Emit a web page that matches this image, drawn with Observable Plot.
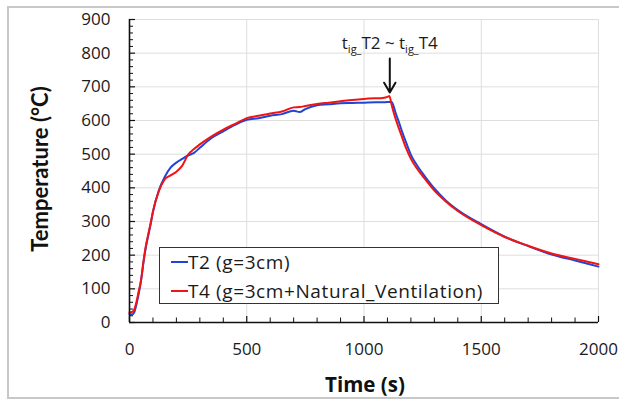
<!DOCTYPE html>
<html>
<head>
<meta charset="utf-8">
<script src="https://cdn.jsdelivr.net/npm/d3@7"></script>
<script src="https://cdn.jsdelivr.net/npm/@observablehq/plot@0.6"></script>
<style>
  html, body { margin: 0; padding: 0; background: #fff; }
  #wrap { position: relative; width: 619px; height: 401px; overflow: hidden; font-family: "Open Sans", sans-serif; }
  #frame { position: absolute; left: 7px; top: 6px; width: 640px; height: 389px; border: 2px solid #c8c8c8; border-right: none; box-sizing: content-box; }
  #chart { position: absolute; left: 0; top: 0; }
  #legend { position: absolute; left: 159px; top: 247px; width: 338px; height: 55px; border: 1px solid #333; background: #fff; font-size: 19px; letter-spacing: 0.6px; color: #1a1a1a; }
  .item { position: absolute; left: 11px; display: flex; align-items: center; white-space: nowrap; }
  .sw { width: 17px; height: 2px; margin-right: 0px; }
</style>
</head>
<body>
<div id="wrap">
  <div id="frame"></div>
  <div id="chart"></div>
  <div id="legend"></div>
</div>
<script>
// ---- data ----
const seriesNames = ["T2 (g=3cm)", "T4 (g=3cm+Natural_Ventilation)"];
const seriesColors = ["#1f45d8", "#f01414"];

const timeT2 = [0,10,20,30,40,47,50,60,70,80,90,100,125,150,175,200,225,250,275,300,350,400,450,500,550,600,650,700,725,750,800,850,900,950,1000,1050,1080,1100,1118,1125,1135,1148,1165,1185,1200,1225,1250,1300,1350,1400,1500,1600,1700,1800,1900,2000];
const tempT2 = [25,24,30,55,88,115,128,180,225,258,292,328,392,432,460,475,486,496,504,519,548,568,587,602,607,614,619,629,625,634,645,648,651,652,653,654,654,655,655,645,622,597,562,525,498,468,443,398,362,334,292,255,227,202,184,166];

const timeT4 = [0,10,20,30,40,47,50,60,70,80,90,100,125,150,175,200,225,250,275,300,350,400,450,500,550,600,650,700,725,750,800,850,900,950,1000,1050,1080,1100,1108,1118,1128,1142,1160,1180,1200,1225,1250,1300,1350,1400,1500,1600,1700,1800,1900,2000];
const tempT4 = [30,31,38,62,95,117,130,184,228,262,294,330,390,425,437,448,466,499,515,529,553,573,590,607,614,621,627,639,640,643,649,653,657,661,664,666,667,670,673,646,620,590,555,517,486,458,435,392,359,331,289,254,228,205,189,173];

const yTicks = [0,100,200,300,400,500,600,700,800,900];
const yMinor = d3.range(0, 901, 20).filter(v => v % 100 !== 0);
const xTicks = [0,500,1000,1500,2000];
const xMinor = d3.range(0, 2001, 100).filter(v => v % 500 !== 0);

const xTitle = "Time (s)";
const yTitle = "Temperature (°C)";
const annotation = [{t: 1110, yText: 828, yFrom: 784, yTo: 683, label: "t_ig_T2 ~ t_ig_T4"}];

// ---- build ----
const rows = [];
timeT2.forEach((t, i) => rows.push({series: seriesNames[0], t, v: tempT2[i]}));
timeT4.forEach((t, i) => rows.push({series: seriesNames[1], t, v: tempT4[i]}));

const W = 619, H = 401, mL = 129, mR = 21, mT = 19, mB = 79;
const fw = W - mL - mR, fh = H - mT - mB;
const gridC = "#dedede";
const FONT = "'Open Sans', sans-serif";

const chart = Plot.plot({
  width: W, height: H,
  marginLeft: mL, marginRight: mR, marginTop: mT, marginBottom: mB,
  x: {domain: [0, 2000], axis: null},
  y: {domain: [0, 900], axis: null},
  style: {fontFamily: FONT, fontSize: "17px", background: "transparent", color: "#1a1a1a"},
  marks: [
    Plot.ruleY(yTicks.filter(d => d > 0), {y: d => d, stroke: gridC, strokeWidth: 1}),
    Plot.ruleX(xTicks.filter(d => d > 0), {x: d => d, stroke: gridC, strokeWidth: 1}),
    Plot.line(rows.filter(d => d.series === seriesNames[0]), {x: "t", y: "v", stroke: seriesColors[0], strokeWidth: 2, curve: "monotone-x"}),
    Plot.line(rows.filter(d => d.series === seriesNames[1]), {x: "t", y: "v", stroke: seriesColors[1], strokeWidth: 2, curve: "monotone-x"}),
    Plot.ruleX([0], {x: d => d, stroke: "#111", strokeWidth: 1.6}),
    Plot.ruleY([0], {y: d => d, stroke: "#111", strokeWidth: 1.6}),
    Plot.tickY(yMinor, {y: d => d, stroke: "#111", strokeWidth: 1, insetRight: fw - 4}),
    Plot.tickY(yTicks, {y: d => d, stroke: "#111", strokeWidth: 1.2, insetRight: fw - 6}),
    Plot.tickX(xMinor, {x: d => d, stroke: "#111", strokeWidth: 1, insetTop: fh - 4.5}),
    Plot.tickX(xTicks, {x: d => d, stroke: "#111", strokeWidth: 1.2, insetTop: fh - 6}),
    Plot.text(yTicks, {y: d => d, text: d => String(d), frameAnchor: "left", dx: -19, textAnchor: "end", fill: "#1a1a1a", fontSize: 17}),
    Plot.text(xTicks, {x: d => d, text: d => String(d), frameAnchor: "bottom", lineAnchor: "bottom", dy: 32, fill: "#1a1a1a", fontSize: 17}),
    Plot.text([xTitle], {frameAnchor: "bottom", lineAnchor: "bottom", textAnchor: "middle", dy: 69, dx: 1, fontWeight: "bold", fontSize: 20.5, fill: "#111"}),
    Plot.text([yTitle], {frameAnchor: "left", textAnchor: "middle", lineAnchor: "middle", rotate: -90, dx: -89, dy: -2, fontWeight: "bold", fontSize: 22, fontFamily: "Lato, sans-serif", fill: "#111"}),
    Plot.arrow(annotation, {x1: "t", x2: "t", y1: "yFrom", y2: "yTo", stroke: "#111", strokeWidth: 2, headLength: 10}),
    Plot.text(annotation, {x: "t", y: "yText", text: "label", fontSize: 17, fill: "#1a1a1a"})
  ]
});
document.getElementById("chart").appendChild(chart);

// subscripts for annotation
chart.querySelectorAll("text").forEach(el => {
  if (el.textContent === annotation[0].label) {
    el.textContent = "";
    const ns = "http://www.w3.org/2000/svg";
    const parts = [["t", false], ["ig_", true], ["T2 ~ t", false], ["ig_", true], ["T4", false]];
    parts.forEach(([s, sub]) => {
      const ts = document.createElementNS(ns, "tspan");
      ts.textContent = s;
      if (sub) { ts.setAttribute("font-size", "11"); ts.setAttribute("dy", "4"); }
      else if (s !== "t") { ts.setAttribute("dy", "-4"); }
      el.appendChild(ts);
    });
  }
});

// legend
const lg = document.getElementById("legend");
seriesNames.forEach((name, i) => {
  const it = document.createElement("div");
  it.className = "item";
  it.style.top = (i === 0 ? 1 : 30) + "px";
  it.innerHTML = `<span class="sw" style="background:${seriesColors[i]}"></span><span>${name}</span>`;
  lg.appendChild(it);
});
</script>
</body>
</html>
